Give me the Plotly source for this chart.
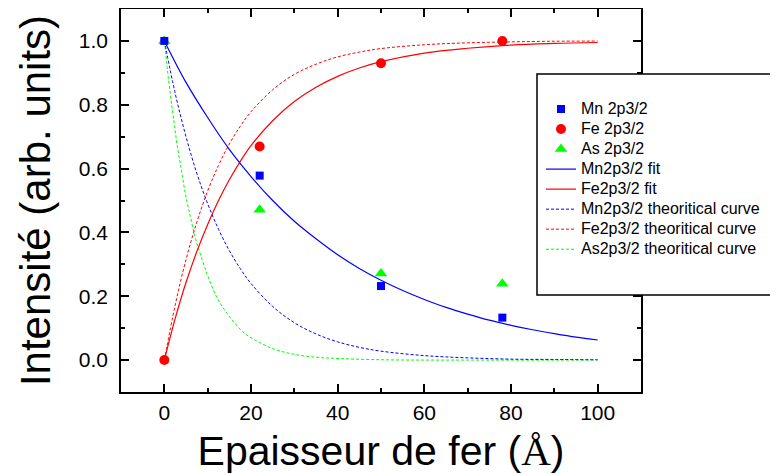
import plotly.graph_objects as go

# measured data points
x_pts = [0, 22, 50, 78]
mn_pts = [1.0, 0.578, 0.232, 0.133]
fe_pts = [0.0, 0.669, 0.930, 1.0]
as_pts = [1.0, 0.471, 0.271, 0.239]

# curves
x_fit = [0, 5, 10, 15, 20, 25, 30, 35, 40, 45, 50, 55, 60, 65, 70, 75, 80, 85, 90, 95, 100]
mn_fit = [1.0, 0.87, 0.76, 0.66, 0.575, 0.50, 0.435, 0.38, 0.33, 0.287, 0.25, 0.218,
          0.19, 0.165, 0.144, 0.125, 0.109, 0.095, 0.083, 0.072, 0.063]

x_fe_fit = [0, 2.5, 5, 7.5, 10, 12.5, 15, 17.5, 20, 25, 30, 35, 40, 45, 50, 60, 70, 80, 90, 100]
fe_fit = [0.0, 0.13, 0.243, 0.34, 0.425, 0.50, 0.565, 0.622, 0.672, 0.75, 0.81, 0.855,
          0.889, 0.915, 0.935, 0.962, 0.977, 0.987, 0.992, 0.995]

x_th = [0, 2.5, 5, 7.5, 10, 12.5, 15, 17.5, 20, 25, 30, 35, 40, 45, 50, 60, 70, 80, 90, 100]
mn_th = [1.0, 0.836, 0.70, 0.585, 0.49, 0.41, 0.343, 0.287, 0.24, 0.168, 0.117, 0.082,
         0.057, 0.04, 0.028, 0.014, 0.007, 0.003, 0.002, 0.001]
fe_th = [0.0, 0.172, 0.315, 0.432, 0.53, 0.61, 0.677, 0.732, 0.778, 0.847, 0.895, 0.927,
         0.95, 0.965, 0.976, 0.988, 0.994, 0.997, 0.999, 0.9995]

x_as_th = [0, 1, 2, 3, 4, 5, 6, 7, 8, 10, 12, 14, 16, 18, 20, 25, 30, 35, 40, 50, 60, 70, 80, 90, 100]
as_th = [1.0, 0.875, 0.77, 0.67, 0.59, 0.51, 0.45, 0.39, 0.345, 0.265, 0.20, 0.155, 0.12,
         0.09, 0.07, 0.036, 0.018, 0.009, 0.005, 0.001, 0.0, 0.0, 0.0, 0.0, 0.0]

legend_names = ["Mn 2p3/2", "Fe 2p3/2", "As 2p3/2", "Mn2p3/2 fit", "Fe2p3/2 fit",
                "Mn2p3/2 theoritical curve", "Fe2p3/2 theoritical curve", "As2p3/2 theoritical curve"]

BLUE, RED, GREEN = "#0000ff", "#ff0000", "#00ff00"
DASH = "3px,2px"
FONT = "Liberation Sans, Arial, sans-serif"


def nm(i):
    return "<span style='font-size:16px'>%s</span>" % legend_names[i]


fig = go.Figure()
fig.add_trace(go.Scatter(x=x_as_th, y=as_th, mode="lines", name=nm(7),
                         line=dict(color=GREEN, width=1, dash=DASH, shape="spline"), legendrank=8))
fig.add_trace(go.Scatter(x=x_th, y=fe_th, mode="lines", name=nm(6),
                         line=dict(color=RED, width=1, dash=DASH, shape="spline"), legendrank=7))
fig.add_trace(go.Scatter(x=x_th, y=mn_th, mode="lines", name=nm(5),
                         line=dict(color=BLUE, width=1, dash=DASH, shape="spline"), legendrank=6))
fig.add_trace(go.Scatter(x=x_fe_fit, y=fe_fit, mode="lines", name=nm(4),
                         line=dict(color=RED, width=1.2, shape="spline"), legendrank=5))
fig.add_trace(go.Scatter(x=x_fit, y=mn_fit, mode="lines", name=nm(3),
                         line=dict(color=BLUE, width=1.2, shape="spline"), legendrank=4))
fig.add_trace(go.Scatter(x=x_pts, y=as_pts, mode="markers", name=nm(2),
                         marker=dict(color=GREEN, symbol="triangle-up", size=11), legendrank=3))
fig.add_trace(go.Scatter(x=x_pts, y=fe_pts, mode="markers", name=nm(1),
                         marker=dict(color=RED, symbol="circle", size=10), legendrank=2))
fig.add_trace(go.Scatter(x=x_pts, y=mn_pts, mode="markers", name=nm(0),
                         marker=dict(color=BLUE, symbol="square", size=8), legendrank=1))

# page body has an 8px margin, so the figure is shifted by 8px
OFF = 8
W, H = 778 - OFF, 474 - OFF
L, R, T = 121 - OFF, 778 - 641, 9 - OFF
B = H - (392 - OFF)
pw = W - L - R
ph = H - T - B


def px2paper_x(px):
    return (px - OFF - L) / pw


def px2paper_y(py):
    return (H - B - (py - OFF)) / ph


axis_common = dict(
    showline=True, linecolor="black", linewidth=1.5, mirror="ticks",
    ticks="inside", ticklen=8, tickwidth=1.5, tickcolor="black",
    showgrid=False, zeroline=False, automargin=False,
    tickfont=dict(family=FONT, size=21, color="black"),
)

fig.update_xaxes(range=[-10, 110], dtick=20, tick0=0, ticklabelstandoff=1,
                 minor=dict(ticks="inside", ticklen=4, dtick=10, tick0=0, tickcolor="black", showgrid=False),
                 title=dict(text="Epaisseur de fer (<span style='font-family:Liberation Serif'>Å</span>)",
                            font=dict(family=FONT, size=41, color="black"), standoff=13),
                 **axis_common)
fig.update_yaxes(range=[-0.1, 1.1], dtick=0.2, tick0=0, tickformat=".1f", ticklabelstandoff=7,
                 minor=dict(ticks="inside", ticklen=4, dtick=0.1, tick0=0, tickcolor="black", showgrid=False),
                 title=dict(text="Intensité (arb. units)",
                            font=dict(family=FONT, size=42, color="black"), standoff=15),
                 **axis_common)

# legend box (extends past right edge, as in the reference)
fig.add_shape(type="rect", xref="paper", yref="paper",
              x0=px2paper_x(537), x1=px2paper_x(800), y0=px2paper_y(295), y1=px2paper_y(74),
              line=dict(color="black", width=1.5), fillcolor="white", layer="above")

fig.update_layout(
    width=W, height=H,
    margin=dict(l=L, r=R, t=T, b=B, autoexpand=False),
    paper_bgcolor="white", plot_bgcolor="white",
    showlegend=True,
    legend=dict(x=px2paper_x(541), y=px2paper_y(94), xanchor="left", yanchor="top",
                bgcolor="rgba(0,0,0,0)", borderwidth=0, traceorder="normal",
                tracegroupgap=0, font=dict(family=FONT, size=13.1, color="black"),
                itemwidth=30),
)

fig.write_html("out.html")
